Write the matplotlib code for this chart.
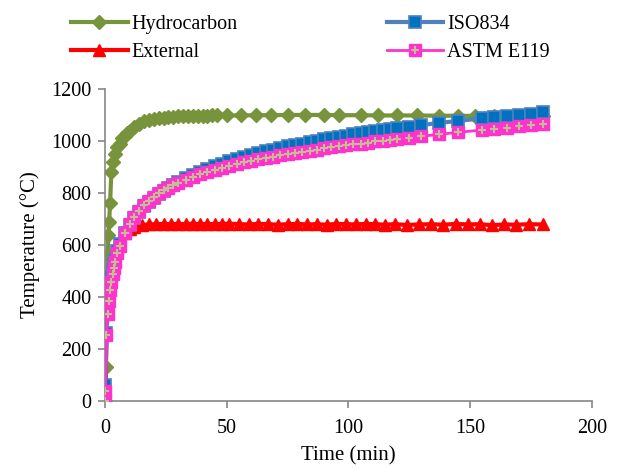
import matplotlib
matplotlib.use("Agg")
import matplotlib.pyplot as plt

plt.rcParams['font.family'] = ['Liberation Serif', 'DejaVu Serif']
plt.rcParams['font.size'] = 14.5

# Hydrocarbon curve
hc_t = [0, 0.3, 0.6, 0.8, 1, 1.3, 1.6, 2, 2.5, 3, 4, 5, 6, 7, 8, 9, 10, 12, 14, 16,
        18, 20, 22, 24, 26, 28, 30, 32, 34, 36, 38, 40, 42, 44, 46, 50, 56, 62, 68,
        75, 82, 90, 96, 105, 112, 120, 128, 137, 145, 152, 160, 168, 175, 180]
hc_T = [0, 130, 380, 500, 560, 640, 690, 760, 880, 920, 950, 975, 990, 1010, 1020,
        1030, 1040, 1055, 1065, 1075, 1080, 1085, 1088, 1090, 1092, 1093, 1094, 1095,
        1095, 1096, 1096, 1097, 1097, 1098, 1098, 1098, 1098, 1099, 1099, 1100, 1100,
        1100, 1099, 1099, 1098, 1098, 1098, 1097, 1097, 1096, 1096, 1096, 1095, 1095]

# ISO834 and ASTM E119 share the same sampling times
std_t = [0, 0.1, 0.5, 1, 1.5, 2, 2.5, 3, 3.5, 4, 5, 6, 8, 10, 12, 14, 16, 18, 20, 22,
         24, 26, 28, 30, 33, 36, 39, 42, 45, 48, 51, 54, 57, 60, 63, 66, 69, 72, 75,
         78, 81, 84, 87, 90, 93, 96, 99, 102, 105, 108, 111, 114, 117, 120, 125, 130,
         137, 145, 155, 160, 165, 170, 175, 180]
iso_T = [0, 60, 261, 349, 404, 445, 476, 502, 525, 544, 576, 603, 645, 678, 705, 728,
         748, 766, 781, 796, 809, 820, 831, 842, 856, 869, 881, 892, 902, 912, 921,
         930, 938, 945, 953, 960, 966, 973, 979, 985, 990, 996, 1001, 1006, 1011, 1016,
         1020, 1025, 1029, 1033, 1037, 1041, 1045, 1049, 1055, 1061, 1069, 1077, 1087,
         1092, 1097, 1101, 1105, 1110]
astm_T = [0, 40, 255, 333, 385, 426, 459, 487, 511, 533, 568, 598, 645, 680, 709, 732,
          752, 770, 785, 798, 810, 821, 830, 839, 851, 862, 872, 881, 890, 897, 904,
          911, 918, 924, 929, 935, 940, 945, 950, 954, 959, 963, 967, 972, 975, 979,
          983, 987, 990, 994, 998, 1001, 1004, 1008, 1013, 1018, 1025, 1033, 1042,
          1047, 1051, 1056, 1060, 1064]

# External fire curve
ext_t = [0, 0.5, 1, 1.5, 2, 2.5, 3, 4, 5, 6, 8, 10, 12, 15, 18, 21, 24, 27, 30, 33,
         36, 39, 42, 45, 48, 51, 55, 59, 63, 67, 71, 75, 79, 83, 87, 91, 95, 99, 103,
         107, 111, 115, 119, 124, 129, 134, 139, 144, 149, 154, 159, 164, 169, 174, 180]
ext_T = [0, 263, 346, 399, 441, 477, 507, 554, 588, 613, 645, 662, 670, 676, 679, 680,
         681, 680, 681, 680, 682, 680, 681, 680, 681, 682, 680, 679, 681, 680, 678,
         680, 681, 679, 680, 678, 681, 680, 679, 681, 680, 678, 680, 677, 679, 680,
         678, 681, 679, 680, 676, 679, 678, 680, 679]

fig = plt.figure(figsize=(6.19, 4.68), dpi=100)
ax = fig.add_axes([0.170, 0.143, 0.786, 0.667])

h_hc, = ax.plot(hc_t, hc_T, color='#77933C', lw=3, marker='D', ms=7,
                mfc='#77933C', mec='#77933C', zorder=2)
h_ext, = ax.plot(ext_t, ext_T, color='#FF0000', lw=3, marker='^', ms=8,
                 mfc='#FF0000', mec='#FF0000', zorder=3)
h_iso, = ax.plot(std_t, iso_T, color='#4F81BD', lw=3, marker='s', ms=9,
                 mfc='#0070C0', mec='#4F81BD', mew=1.2, zorder=4)
h_astm, = ax.plot(std_t, astm_T, color='#FF33CC', lw=2, marker='s', ms=8,
                  mfc='#FF33CC', mec='#FF33CC', zorder=5)
h_plus, = ax.plot(std_t, astm_T, ls='none', marker='+', ms=6, mew=1.5,
                  color='#C4BD97', zorder=6)

ax.set_xlim(0, 200)
ax.set_ylim(0, 1200)
ax.set_xticks([0, 50, 100, 150, 200])
ax.set_yticks(range(0, 1201, 200))
ax.set_xlabel('Time (min)', fontsize=15, labelpad=6)
ax.set_ylabel('Temperature (°C)', fontsize=15, labelpad=8)

for side in ['top', 'right']:
    ax.spines[side].set_visible(False)
for side in ['left', 'bottom']:
    ax.spines[side].set_color('#868686')
    ax.spines[side].set_linewidth(1.2)
ax.tick_params(direction='out', length=5, color='#868686', width=1.2, pad=5)
ax.tick_params(axis='x', pad=8)
ax.margins(0)

ax.legend([h_hc, h_ext, h_iso, (h_astm, h_plus)],
          ['Hydrocarbon', 'External', 'ISO834', 'ASTM E119'],
          ncol=2, loc='upper left', bbox_to_anchor=(0.115, 0.968),
          bbox_transform=fig.transFigure, frameon=False, borderpad=0,
          handlelength=2.8, handletextpad=0.2, columnspacing=7.4,
          labelspacing=0.45, borderaxespad=0)

fig.savefig('out.png', dpi=100)
